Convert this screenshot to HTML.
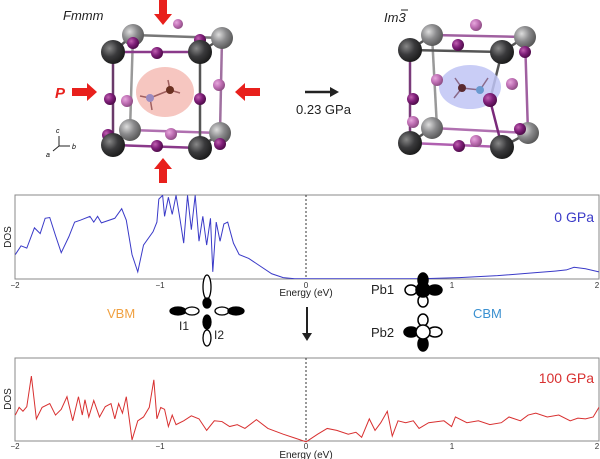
<!DOCTYPE html>
<html><head><meta charset="utf-8"><style>
html,body{margin:0;padding:0;background:#fff;}
svg{display:block;font-family:"Liberation Sans",sans-serif;}
</style></head><body>
<svg width="600" height="459" viewBox="0 0 600 459" xmlns="http://www.w3.org/2000/svg">
<defs>
<radialGradient id="dk" cx="35%" cy="35%" r="70%"><stop offset="0" stop-color="#888"/><stop offset="0.5" stop-color="#3a3a3c"/><stop offset="1" stop-color="#1a1a1a"/></radialGradient>
<radialGradient id="gr" cx="35%" cy="35%" r="70%"><stop offset="0" stop-color="#ddd"/><stop offset="0.5" stop-color="#8a8a8c"/><stop offset="1" stop-color="#555"/></radialGradient>
<radialGradient id="pu" cx="35%" cy="35%" r="70%"><stop offset="0" stop-color="#c060b0"/><stop offset="0.5" stop-color="#80207a"/><stop offset="1" stop-color="#4a0a45"/></radialGradient>
<radialGradient id="lp" cx="35%" cy="35%" r="70%"><stop offset="0" stop-color="#e6a8dc"/><stop offset="0.5" stop-color="#c070b5"/><stop offset="1" stop-color="#8a4a80"/></radialGradient>
<clipPath id="c1"><rect x="15" y="195" width="584" height="84"/></clipPath>
</defs>

<!-- Left structure -->
<text x="63" y="20" font-size="13" font-style="italic" fill="#222">Fmmm</text>
<g stroke-width="2.5">
<line x1="133" y1="35" x2="222" y2="38" stroke="#777"/>
<line x1="133" y1="35" x2="130" y2="130" stroke="#999"/>
<line x1="222" y1="38" x2="220" y2="133" stroke="#a070a0"/>
<line x1="130" y1="130" x2="220" y2="133" stroke="#b070b0"/>
<line x1="113" y1="52" x2="200" y2="52" stroke="#8a3a8a"/>
<line x1="113" y1="52" x2="113" y2="145" stroke="#6a3a6a"/>
<line x1="200" y1="52" x2="200" y2="148" stroke="#555"/>
<line x1="113" y1="145" x2="200" y2="148" stroke="#8a3a8a"/>
<line x1="113" y1="52" x2="133" y2="35" stroke="#555"/>
<line x1="200" y1="52" x2="222" y2="38" stroke="#555"/>
<line x1="113" y1="145" x2="130" y2="130" stroke="#555"/>
<line x1="200" y1="148" x2="220" y2="133" stroke="#555"/>
</g>
<ellipse cx="165" cy="92" rx="29" ry="25" fill="#f4b8b0" opacity="0.8"/>
<g stroke="#a06060" stroke-width="1.5"><line x1="150" y1="98" x2="170" y2="90"/><line x1="170" y1="90" x2="168" y2="80"/><line x1="170" y1="90" x2="180" y2="93"/><line x1="150" y1="98" x2="140" y2="96"/><line x1="150" y1="98" x2="152" y2="110"/></g>
<circle cx="150" cy="98" r="4" fill="#9a8ac0"/><circle cx="170" cy="90" r="4" fill="#6a3020"/>
<circle cx="178" cy="24" r="5" fill="url(#lp)"/>
<circle cx="127" cy="101" r="6" fill="url(#lp)"/><circle cx="219" cy="85" r="6" fill="url(#lp)"/>
<circle cx="171" cy="134" r="6" fill="url(#lp)"/>
<circle cx="133" cy="35" r="11" fill="url(#gr)"/><circle cx="222" cy="38" r="11" fill="url(#gr)"/>
<circle cx="130" cy="130" r="11" fill="url(#gr)"/><circle cx="220" cy="133" r="11" fill="url(#gr)"/>
<circle cx="133" cy="43" r="6" fill="url(#pu)"/><circle cx="200" cy="40" r="6" fill="url(#pu)"/>
<circle cx="157" cy="53" r="6" fill="url(#pu)"/><circle cx="110" cy="99" r="6" fill="url(#pu)"/>
<circle cx="200" cy="99" r="6" fill="url(#pu)"/><circle cx="157" cy="146" r="6" fill="url(#pu)"/>
<circle cx="220" cy="144" r="6" fill="url(#pu)"/><circle cx="108" cy="135" r="6" fill="url(#pu)"/>
<circle cx="113" cy="52" r="12" fill="url(#dk)"/><circle cx="200" cy="52" r="12" fill="url(#dk)"/>
<circle cx="113" cy="145" r="12" fill="url(#dk)"/><circle cx="200" cy="148" r="12" fill="url(#dk)"/>
<g fill="#e8201c">
<polygon points="159,0 167,0 167,14 172,14 163,25 154,14 159,14"/>
<polygon points="159,183 167,183 167,169 172,169 163,158 154,169 159,169"/>
<polygon points="72,88 87,88 87,83 97,92 87,101 87,96 72,96"/>
<polygon points="260,88 245,88 245,83 235,92 245,101 245,96 260,96"/>
</g>
<text x="55" y="98" font-size="15" font-weight="bold" font-style="italic" fill="#e8201c">P</text>
<g stroke="#222" stroke-width="1" fill="none"><line x1="59" y1="146" x2="59" y2="136"/><line x1="59" y1="146" x2="70" y2="146"/><line x1="59" y1="146" x2="53" y2="151"/></g>
<text x="56" y="133" font-size="7" font-style="italic">c</text><text x="72" y="149" font-size="7" font-style="italic">b</text><text x="46" y="157" font-size="7" font-style="italic">a</text>

<line x1="305" y1="92" x2="332" y2="92" stroke="#222" stroke-width="2.5"/>
<polygon points="330,87 339,92 330,97" fill="#222"/>
<text x="296" y="114" font-size="13" fill="#222">0.23 GPa</text>

<!-- Right structure -->
<text x="384" y="22" font-size="13" font-style="italic" fill="#222">Im3</text>
<line x1="401" y1="10" x2="408" y2="10" stroke="#222" stroke-width="1"/>
<g stroke-width="2.5">
<line x1="432" y1="35" x2="525" y2="37" stroke="#a060a0"/>
<line x1="432" y1="35" x2="437" y2="128" stroke="#999"/>
<line x1="525" y1="37" x2="528" y2="133" stroke="#a060a0"/>
<line x1="432" y1="128" x2="528" y2="133" stroke="#b070b0"/>
<line x1="410" y1="50" x2="502" y2="52" stroke="#555"/>
<line x1="410" y1="50" x2="410" y2="143" stroke="#7a3a7a"/>
<line x1="502" y1="52" x2="490" y2="100" stroke="#555"/>
<line x1="490" y1="100" x2="502" y2="147" stroke="#7a2a7a"/>
<line x1="410" y1="143" x2="502" y2="147" stroke="#b060b0"/>
<line x1="410" y1="50" x2="432" y2="35" stroke="#555"/>
<line x1="502" y1="52" x2="525" y2="37" stroke="#555"/>
<line x1="410" y1="143" x2="432" y2="128" stroke="#555"/>
<line x1="502" y1="147" x2="528" y2="133" stroke="#555"/>
</g>
<ellipse cx="470" cy="87" rx="31" ry="22" fill="#c0c4f4" opacity="0.85"/>
<g stroke="#8a6a8a" stroke-width="1.5"><line x1="462" y1="88" x2="480" y2="90"/><line x1="462" y1="88" x2="455" y2="78"/><line x1="462" y1="88" x2="454" y2="98"/><line x1="480" y1="90" x2="488" y2="78"/></g>
<circle cx="462" cy="88" r="4" fill="#5a2a30"/><circle cx="480" cy="90" r="4" fill="#6a9ad0"/>
<circle cx="476" cy="25" r="6" fill="url(#lp)"/>
<circle cx="437" cy="80" r="6" fill="url(#lp)"/><circle cx="512" cy="84" r="6" fill="url(#lp)"/>
<circle cx="476" cy="141" r="6" fill="url(#lp)"/><circle cx="413" cy="122" r="6" fill="url(#lp)"/>
<circle cx="432" cy="35" r="11" fill="url(#gr)"/><circle cx="525" cy="37" r="11" fill="url(#gr)"/>
<circle cx="432" cy="128" r="11" fill="url(#gr)"/><circle cx="528" cy="133" r="11" fill="url(#gr)"/>
<circle cx="458" cy="45" r="6" fill="url(#pu)"/><circle cx="525" cy="52" r="6" fill="url(#pu)"/>
<circle cx="413" cy="99" r="6" fill="url(#pu)"/><circle cx="490" cy="100" r="7" fill="url(#pu)"/>
<circle cx="459" cy="146" r="6" fill="url(#pu)"/><circle cx="520" cy="129" r="6" fill="url(#pu)"/>
<circle cx="410" cy="50" r="12" fill="url(#dk)"/><circle cx="502" cy="52" r="12" fill="url(#dk)"/>
<circle cx="410" cy="143" r="12" fill="url(#dk)"/><circle cx="502" cy="147" r="12" fill="url(#dk)"/>

<!-- Plot 1 -->
<rect x="15" y="195" width="584" height="84" fill="none" stroke="#888" stroke-width="1"/>
<line x1="306" y1="195" x2="306" y2="279" stroke="#333" stroke-width="1" stroke-dasharray="2,2"/>
<g clip-path="url(#c1)"><g transform="translate(0,180) scale(0.3827)">
<polyline fill="none" stroke="#3a3ac8" stroke-width="1" vector-effect="non-scaling-stroke" points="40,195 55,172 70,178 90,125 105,140 118,100 130,98 145,145 160,190 180,148 195,110 210,105 235,95 245,110 255,95 265,112 300,100 318,75 330,105 345,195 360,240 375,170 400,135 410,110 415,50 425,40 430,95 440,45 450,90 460,40 470,100 480,165 490,40 500,130 510,40 520,160 530,95 540,170 550,100 556,240 565,110 575,160 585,115 595,110 610,165 625,195 650,205 680,225 710,245 740,255 770,258 800,258 1100,258 1200,255 1300,250 1400,242 1450,238 1480,235 1500,228 1530,232 1565,240"/>
</g></g>
<text x="594" y="222" font-size="14" fill="#3a3ac8" text-anchor="end">0 GPa</text>
<text transform="translate(11,237) rotate(-90)" font-size="10" text-anchor="middle" fill="#222">DOS</text>
<g font-size="8" fill="#333" text-anchor="middle"><text x="15" y="288">−2</text><text x="160" y="288">−1</text><text x="306" y="288">0</text><text x="452" y="288">1</text><text x="597" y="288">2</text></g>
<text x="306" y="296" font-size="10" text-anchor="middle" fill="#222">Energy (eV)</text>

<!-- Middle panel -->
<text x="107" y="318" font-size="13" fill="#f0a040">VBM</text>
<text x="473" y="318" font-size="13" fill="#3a90d0">CBM</text>
<line x1="307" y1="307" x2="307" y2="335" stroke="#222" stroke-width="2"/>
<polygon points="302,333 312,333 307,341" fill="#222"/>
<g stroke="#000" stroke-width="1.3">
<ellipse cx="207" cy="287" rx="4" ry="12" fill="#fff"/>
<ellipse cx="207" cy="303" rx="4" ry="5" fill="#000"/>
<ellipse cx="207" cy="322" rx="4" ry="7" fill="#000"/>
<ellipse cx="207" cy="338" rx="4" ry="8" fill="#fff"/>
<ellipse cx="178" cy="311" rx="8" ry="4" fill="#000"/>
<ellipse cx="192" cy="311" rx="7" ry="4" fill="#fff"/>
<ellipse cx="222" cy="311" rx="7" ry="4" fill="#fff"/>
<ellipse cx="236" cy="311" rx="8" ry="4" fill="#000"/>
</g>
<text x="179" y="330" font-size="12" fill="#222">I1</text>
<text x="214" y="339" font-size="12" fill="#222">I2</text>
<text x="371" y="294" font-size="13" fill="#222">Pb1</text>
<text x="371" y="337" font-size="13" fill="#222">Pb2</text>
<g stroke="#000" stroke-width="1.5">
<ellipse cx="423" cy="280" rx="5" ry="7" fill="#000"/>
<ellipse cx="411" cy="290" rx="6" ry="5" fill="#fff"/>
<ellipse cx="435" cy="290" rx="7" ry="5" fill="#000"/>
<ellipse cx="423" cy="301" rx="5" ry="6" fill="#fff"/>
<circle cx="423" cy="290" r="7" fill="#000"/>
<ellipse cx="423" cy="320" rx="5" ry="6" fill="#fff"/>
<ellipse cx="411" cy="332" rx="7" ry="5" fill="#000"/>
<ellipse cx="435" cy="332" rx="7" ry="5" fill="#fff"/>
<ellipse cx="423" cy="344" rx="5" ry="7" fill="#000"/>
<circle cx="423" cy="332" r="7" fill="#fff"/>
</g>

<!-- Plot 2 -->
<rect x="15" y="358" width="584" height="83" fill="none" stroke="#888" stroke-width="1"/>
<line x1="306" y1="358" x2="306" y2="441" stroke="#333" stroke-width="1" stroke-dasharray="2,2"/>
<g transform="translate(0,350) scale(0.3827)">
<polyline fill="none" stroke="#d83030" stroke-width="1" vector-effect="non-scaling-stroke" points="40,170 50,150 60,160 70,148 82,68 95,180 110,150 130,140 145,170 160,155 175,122 190,185 205,122 215,170 222,130 232,175 245,132 260,175 275,148 290,140 300,180 310,140 320,165 330,122 345,235 360,185 375,175 390,150 402,78 410,180 420,150 430,155 440,200 450,170 460,195 480,185 500,172 520,180 540,210 560,185 580,187 600,200 620,195 640,205 670,182 700,205 740,220 770,230 800,240 830,220 855,205 880,210 910,220 930,215 945,228 965,180 980,210 995,190 1012,160 1025,225 1040,185 1060,190 1080,185 1095,205 1120,190 1160,185 1180,200 1190,175 1220,190 1250,185 1280,195 1310,190 1330,175 1360,185 1380,170 1400,165 1430,175 1460,170 1490,185 1510,178 1530,180 1550,175 1565,150"/>
</g>
<text x="594" y="383" font-size="14" fill="#d83030" text-anchor="end">100 GPa</text>
<text transform="translate(11,399) rotate(-90)" font-size="10" text-anchor="middle" fill="#222">DOS</text>
<g font-size="8" fill="#333" text-anchor="middle"><text x="15" y="449">−2</text><text x="160" y="449">−1</text><text x="306" y="449">0</text><text x="452" y="449">1</text><text x="597" y="449">2</text></g>
<text x="306" y="458" font-size="10" text-anchor="middle" fill="#222">Energy (eV)</text>
</svg>
</body></html>
